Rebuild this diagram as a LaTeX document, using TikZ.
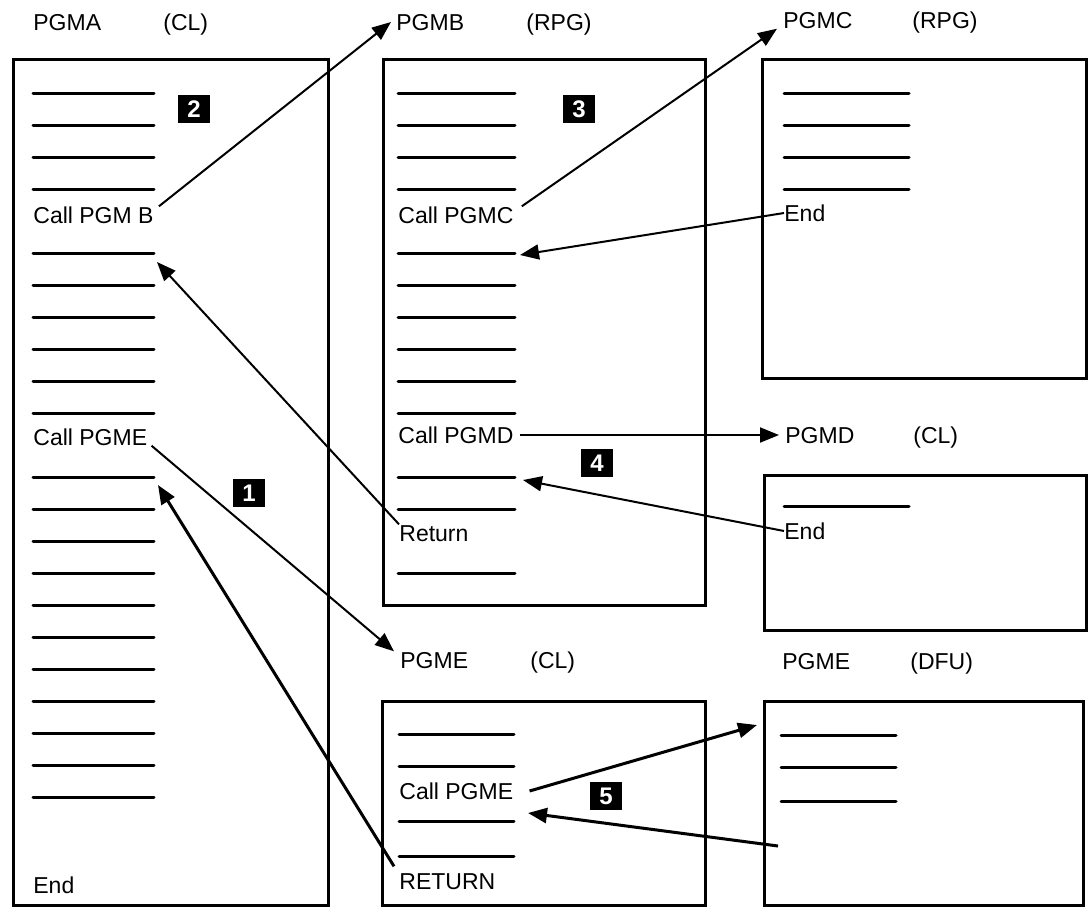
\documentclass[tikz,border=0pt]{standalone}
\usepackage{fontspec}
\setmainfont{Liberation Sans}
\usetikzlibrary{arrows.meta, positioning}

\tikzset{
  lbl/.style={anchor=west, inner sep=0pt, text height=8.3pt, text depth=0pt, font=\fontsize{11.5}{13}\selectfont},
  frame/.style={line width=1.5pt},
  stmt/.style={line width=1.5pt, line cap=round},
  badge/.style={fill=black, text=white, font=\fontsize{12}{12}\selectfont\bfseries, minimum width=16pt, minimum height=14pt, inner sep=0pt},
  flow/.style={-{Triangle[length=9.5pt,width=7.5pt]}, line width=1pt},
  flowbold/.style={flow, line width=1.5pt},
}

\begin{document}
\begin{tikzpicture}[x=0.5pt, y=-0.5pt]
    \useasboundingbox (0,0) rectangle (1088,907);

    % program frames
    \draw[frame] (13,59) rectangle (328,905);
    \draw[frame] (383,59) rectangle (705,605);
    \draw[frame] (762,59) rectangle (1086,378);
    \draw[frame] (764,475) rectangle (1086,630);
    \draw[frame] (382,701) rectangle (705,905);
    \draw[frame] (764,701) rectangle (1083,905);

    % titles
    \node[lbl] (aName) at (33,22) {PGMA};
    \node[lbl] (aLang) at (163,22) {(CL)};
    \node[lbl] (bName) at (396,22) {PGMB};
    \node[lbl] (bLang) at (526,22) {(RPG)};
    \node[lbl] (cName) at (783,20) {PGMC};
    \node[lbl] (cLang) at (912,20) {(RPG)};
    \node[lbl] (dName) at (785,435) {PGMD};
    \node[lbl] (dLang) at (913,435) {(CL)};
    \node[lbl] (eName) at (400,660) {PGME};
    \node[lbl] (eLang) at (530,660) {(CL)};
    \node[lbl] (fName) at (782,661) {PGME};
    \node[lbl] (fLang) at (910,661) {(DFU)};

    % statement lines
    \foreach \k in {0,...,3,5,6,...,10,12,13,...,22}
        \draw[stmt] (33,{93+32*\k}) -- ++(121,0);
    \foreach \k in {0,...,3,5,6,...,10,12,13,15}
        \draw[stmt] (398,{93+32*\k}) -- ++(117,0);
    \foreach \k in {0,...,3}
        \draw[stmt] (784,{93+32*\k}) -- ++(125,0);
    \draw[stmt] (784,506) -- ++(125,0);
    \foreach \y in {734,766,821,856}
        \draw[stmt] (399,\y) -- ++(115,0);
    \foreach \y in {735,767,801}
        \draw[stmt] (781,\y) -- ++(115,0);

    % statements
    \node[lbl] (callB) at (33,215) {Call PGM B};
    \node[lbl] (callE) at (33,437) {Call PGME};
    \node[lbl] (endA) at (33,885) {End};
    \node[lbl] (callC) at (398,215) {Call PGMC};
    \node[lbl] (callD) at (398,435) {Call PGMD};
    \node[lbl] (retB) at (399,533) {Return};
    \node[lbl] (endC) at (784,213) {End};
    \node[lbl] (endD) at (784,531) {End};
    \node[lbl] (callF) at (399,791) {Call PGME};
    \node[lbl] (retE) at (399,881) {RETURN};

    % step numbers
    \node[badge] (n1) at (249,493) {1};
    \node[badge] (n2) at (194,109) {2};
    \node[badge] (n3) at (579,109) {3};
    \node[badge] (n4) at (597,463) {4};
    \node[badge] (n5) at (606,796) {5};

    % return points
    \coordinate (aBack1) at (157,262);
    \coordinate (aBack2) at (158,485);
    \coordinate (bBack1) at (520,255);
    \coordinate (bBack2) at (523,480);
    \coordinate (eBack) at (528,813);
    \coordinate (fIn) at (757,725);
    \coordinate (fOut) at (778,846);

    % calls and returns
    \draw[flow] ([xshift=2.5pt]callB.north east) -- ([xshift=-2.5pt]bName.west);
    \draw[flow] ([xshift=4pt]callC.north east) -- ([xshift=-3pt]cName.south west);
    \draw[flow] (endC.west) -- (bBack1);
    \draw[flow] ([xshift=3pt]callD.east) -- ([xshift=-3pt]dName.west);
    \draw[flow] (endD.west) -- (bBack2);
    \draw[flow] (retB.north west) -- (aBack1);
    \draw[flow] ([xshift=2pt]callE.south east) -- ([xshift=-3pt]eName.north west);
    \draw[flowbold] ([shift={(-5,-6)}]retE.north west) -- (aBack2);
    \draw[flowbold] ([xshift=8pt]callF.east) -- (fIn);
    \draw[flowbold] (fOut) -- (eBack);
\end{tikzpicture}
\end{document}
